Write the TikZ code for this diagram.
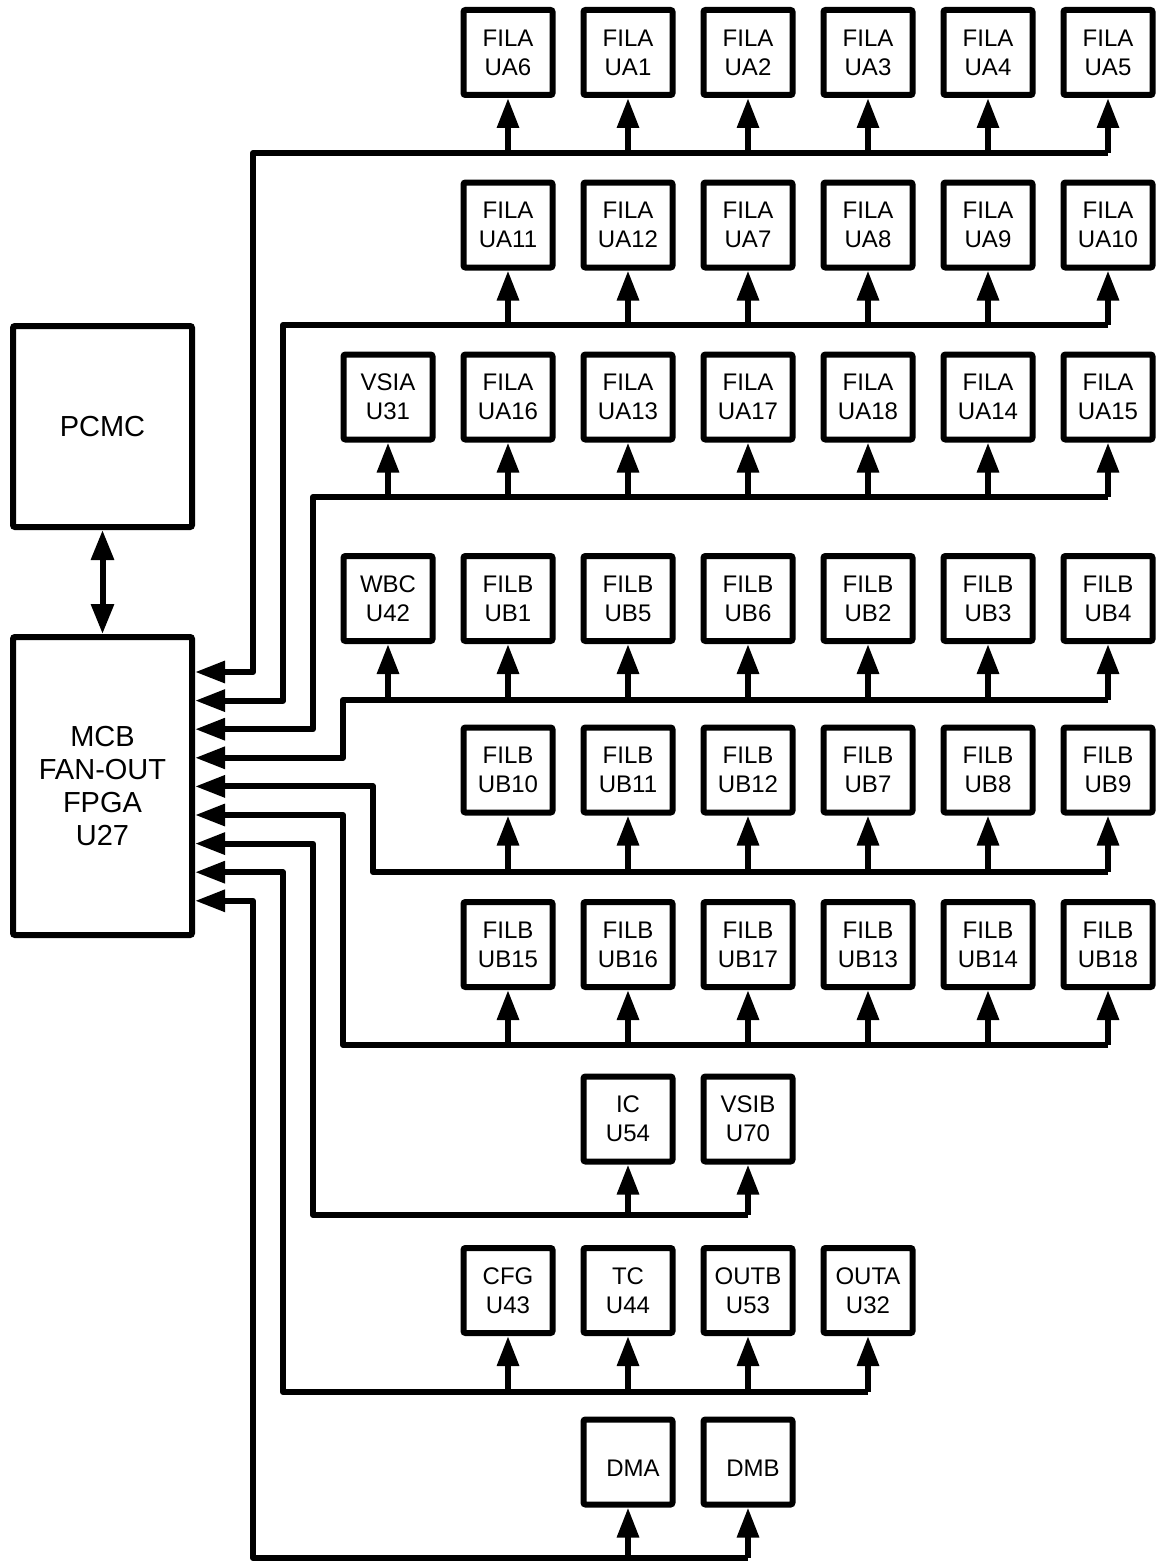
\documentclass[tikz,border=0pt]{standalone}
\usepackage{fontspec}
\setmainfont{Liberation Sans}
\usetikzlibrary{arrows.meta}
\tikzset{
  unit/.style={draw, line width=6pt, rounded corners=2pt, minimum width=89pt, minimum height=85pt, inner sep=0pt, align=center, font=\fontsize{24}{29}\selectfont},
  bigunit/.style={unit, minimum width=179pt, font=\fontsize{29}{33}\selectfont},
  bus/.style={line width=6pt, line join=round},
  feed/.style={bus, -{Triangle[length=30pt,width=21pt]}},
}
\begin{document}
\begin{tikzpicture}[x=1pt,y=-1pt]
\useasboundingbox (0,0) rectangle (1156,1568);
\node[bigunit, minimum height=201pt] (pcmc) at (102.5,426.5) {PCMC};
\node[bigunit, minimum height=298pt] (mcb) at (102.5,786) {MCB\\FAN-OUT\\FPGA\\U27};
\draw[bus, {Triangle[length=30pt,width=22pt]}-{Triangle[length=30pt,width=22pt]}] (pcmc) -- (mcb);
\foreach \lbl [count=\i] in {UA6,UA1,UA2,UA3,UA4,UA5}
  \node[unit] (a\i) at ({388+120*\i},52.5) {FILA\\\lbl};
\foreach \lbl [count=\i] in {UA11,UA12,UA7,UA8,UA9,UA10}
  \node[unit] (b\i) at ({388+120*\i},225) {FILA\\\lbl};
\node[unit] (c0) at (388,397) {VSIA\\U31};
\foreach \lbl [count=\i] in {UA16,UA13,UA17,UA18,UA14,UA15}
  \node[unit] (c\i) at ({388+120*\i},397) {FILA\\\lbl};
\node[unit] (d0) at (388,598.5) {WBC\\U42};
\foreach \lbl [count=\i] in {UB1,UB5,UB6,UB2,UB3,UB4}
  \node[unit] (d\i) at ({388+120*\i},598.5) {FILB\\\lbl};
\foreach \lbl [count=\i] in {UB10,UB11,UB12,UB7,UB8,UB9}
  \node[unit] (e\i) at ({388+120*\i},770) {FILB\\\lbl};
\foreach \lbl [count=\i] in {UB15,UB16,UB17,UB13,UB14,UB18}
  \node[unit] (f\i) at ({388+120*\i},944.5) {FILB\\\lbl};
\node[unit] (ic) at (628,1119) {IC\\U54};
\node[unit] (vsib) at (748,1119) {VSIB\\U70};
\node[unit] (cfg) at (508,1290.5) {CFG\\U43};
\node[unit] (tc) at (628,1290.5) {TC\\U44};
\node[unit] (outb) at (748,1290.5) {OUTB\\U53};
\node[unit] (outa) at (868,1290.5) {OUTA\\U32};
\node[unit] (dma) at (628,1462) {\hspace{10pt}\raisebox{-6pt}[\height][\depth]{DMA}};
\node[unit] (dmb) at (748,1462) {\hspace{10pt}\raisebox{-6pt}[\height][\depth]{DMB}};
\coordinate (t1) at (253,153);
\coordinate (t2) at (283,325);
\coordinate (t3) at (313,497);
\coordinate (t4) at (343,700);
\coordinate (t5) at (373,872);
\coordinate (t6) at (343,1045);
\coordinate (t7) at (313,1215);
\coordinate (t8) at (283,1392);
\coordinate (t9) at (253,1558);
\foreach \k in {1,...,9}
  \coordinate (m\k) at ([yshift={-38pt-28.6pt*(\k-1)}]mcb.north east);
\draw[feed] (a6.south |- t1) -- (t1) |- (m1);
\draw[feed] (b6.south |- t2) -- (t2) |- (m2);
\draw[feed] (c6.south |- t3) -- (t3) |- (m3);
\draw[feed] (d6.south |- t4) -- (t4) |- (m4);
\draw[feed] (e6.south |- t5) -- (t5) |- (m5);
\draw[feed] (f6.south |- t6) -- (t6) |- (m6);
\draw[feed] (vsib.south |- t7) -- (t7) |- (m7);
\draw[feed] (outa.south |- t8) -- (t8) |- (m8);
\draw[feed] (dmb.south |- t9) -- (t9) |- (m9);
\foreach \i in {1,...,6} {
  \draw[feed] (a\i.south |- t1) -- (a\i.south);
  \draw[feed] (b\i.south |- t2) -- (b\i.south);
  \draw[feed] (c\i.south |- t3) -- (c\i.south);
  \draw[feed] (d\i.south |- t4) -- (d\i.south);
  \draw[feed] (e\i.south |- t5) -- (e\i.south);
  \draw[feed] (f\i.south |- t6) -- (f\i.south);
}
\draw[feed] (c0.south |- t3) -- (c0.south);
\draw[feed] (d0.south |- t4) -- (d0.south);
\foreach \n in {ic,vsib}
  \draw[feed] (\n.south |- t7) -- (\n.south);
\foreach \n in {cfg,tc,outb,outa}
  \draw[feed] (\n.south |- t8) -- (\n.south);
\foreach \n in {dma,dmb}
  \draw[feed] (\n.south |- t9) -- (\n.south);
\end{tikzpicture}
\end{document}
